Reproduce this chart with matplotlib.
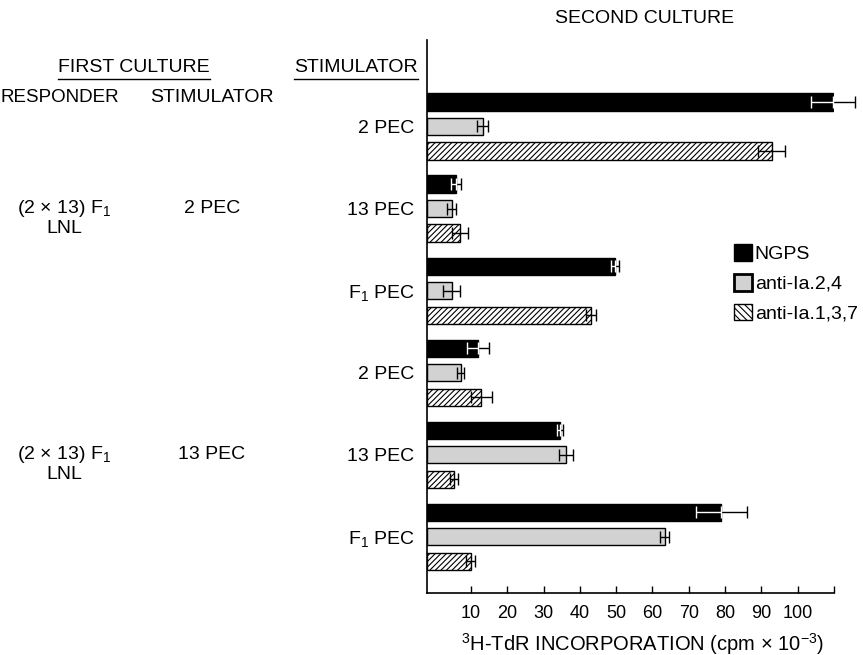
import numpy as np
import matplotlib
matplotlib.use("Agg")
import matplotlib.pyplot as plt
from matplotlib.patches import Patch
from matplotlib.lines import Line2D
from matplotlib.transforms import blended_transform_factory

plt.rcParams["font.family"] = ["Liberation Sans", "DejaVu Sans"]
plt.rcParams["mathtext.fontset"] = "custom"
plt.rcParams["mathtext.rm"] = "Liberation Sans"
plt.rcParams["mathtext.it"] = "Liberation Sans"
plt.rcParams["hatch.linewidth"] = 0.8

# second-culture stimulators (one group each)
stimulators = ["2 PEC", "13 PEC", "F$_1$ PEC", "2 PEC", "13 PEC", "F$_1$ PEC"]
series = ["NGPS", "anti-Ia.2,4", "anti-Ia.1,3,7"]

# 3H-TdR incorporation (cpm x 10^-3)
ngps = [109.7, 6.0, 49.7, 12.0, 34.5, 78.9]
ngps_err = [6.0, 1.4, 1.0, 3.0, 0.9, 7.0]
anti24 = [13.3, 4.7, 4.7, 7.2, 36.2, 63.4]
anti24_err = [1.5, 1.2, 2.3, 0.9, 2.0, 1.2]
anti137 = [92.8, 7.0, 43.0, 12.9, 5.4, 9.9]
anti137_err = [3.7, 2.3, 1.4, 3.0, 1.1, 1.2]

# first culture
responders = ["(2 $\\times$ 13) F$_1$", "(2 $\\times$ 13) F$_1$"]
first_stim = ["2 PEC", "13 PEC"]

xticks = [10, 20, 30, 40, 50, 60, 70, 80, 90, 100, 110]
xticklabels = ["10", "20", "30", "40", "50", "60", "70", "80", "90", "100", ""]

GP = 3.35   # group pitch in bar units
H = 0.7
X0 = -2.1
FS = 14

fig = plt.figure(figsize=(8.63, 6.55), dpi=100)
ax = fig.add_axes([427 / 863, 1 - 593 / 655, (834 - 427) / 863, (593 - 40) / 655])

g = np.arange(len(stimulators))
values = [ngps, anti24, anti137]
errs = [ngps_err, anti24_err, anti137_err]
styles = [dict(color="black", edgecolor="black"),
          dict(color="#d2d2d2", edgecolor="black"),
          dict(color="white", edgecolor="black", hatch="//////")]

for i, (v, e, st) in enumerate(zip(values, errs, styles)):
    y = g * GP + i
    v = np.array(v)
    ax.barh(y, v - X0, left=X0, height=H, linewidth=1.0, zorder=2, **st)
    eb = ax.errorbar(v, y, xerr=e, fmt="none", ecolor="black", elinewidth=1.0,
                     capsize=4, capthick=1.0, zorder=3)
    for art in list(eb.lines[1]) + list(eb.lines[2]):
        art.set_clip_on(False)
    if i == 0:
        # part of the error bar that lies over the black bar shows white
        ax.errorbar(v, y, xerr=[e, np.zeros(len(e))], fmt="none", ecolor="white",
                    elinewidth=1.0, capsize=4, capthick=1.0, zorder=4)

ax.set_xlim(X0, 110)
ax.set_ylim(2 + (len(stimulators) - 1) * GP + 1.29, -2.53)
ax.spines["top"].set_visible(False)
ax.spines["right"].set_visible(False)
ax.spines["left"].set_linewidth(1.2)
ax.spines["bottom"].set_linewidth(1.2)

ax.set_xticks(xticks)
ax.set_xticklabels(xticklabels, fontsize=13)
ax.tick_params(axis="x", direction="in", length=5, width=1, pad=9)
ax.set_yticks(g * GP + 1)
ax.set_yticklabels(stimulators, fontsize=FS)
ax.tick_params(axis="y", length=0, pad=9)
ax.set_xlabel("$^{3}$H-TdR INCORPORATION (cpm $\\times$ 10$^{-3}$)", fontsize=14.5, labelpad=6)
ax.xaxis.label.set_x((643 - 427) / (834 - 427))

fig.text(645 / 863, 1 - 18.5 / 655, "SECOND CULTURE", ha="center", va="center", fontsize=FS)
t1 = fig.text(134 / 863, 1 - 67 / 655, "FIRST CULTURE", ha="center", va="center", fontsize=FS)
t2 = fig.text(418 / 863, 1 - 67 / 655, "STIMULATOR", ha="right", va="center", fontsize=FS)
fig.text(1 / 863, 1 - 97 / 655, "RESPONDER", ha="left", va="center", fontsize=13.5)
fig.text(212 / 863, 1 - 97 / 655, "STIMULATOR", ha="center", va="center", fontsize=FS)

tr = blended_transform_factory(fig.transFigure, ax.transData)
for k, (resp, st) in enumerate(zip(responders, first_stim)):
    yc = (3 * k + 1) * GP + 1
    fig.text(17 / 863, yc, resp, transform=tr, ha="left", va="center", fontsize=FS)
    fig.text(64 / 863, yc + 0.8, "LNL", transform=tr, ha="center", va="center", fontsize=FS)
    fig.text(212 / 863, yc, st, transform=tr, ha="center", va="center", fontsize=FS)

# underline the two headers
fig.canvas.draw()
renderer = fig.canvas.get_renderer()
inv = fig.transFigure.inverted()
for t in (t1, t2):
    bb = t.get_window_extent(renderer)
    (x0, y0), (x1, _) = inv.transform([(bb.x0, bb.y0 - 3), (bb.x1, bb.y0 - 3)])
    fig.add_artist(Line2D([x0, x1], [y0, y0], transform=fig.transFigure,
                          color="black", linewidth=1.0))

handles = [Patch(facecolor="black", edgecolor="black"),
           Patch(facecolor="#d2d2d2", edgecolor="black", linewidth=2),
           Patch(facecolor="white", edgecolor="black", hatch="\\\\\\\\\\")]
fig.legend(handles, series, loc="upper left", bbox_to_anchor=(734 / 863, 1 - 244 / 655),
           frameon=False, borderpad=0, borderaxespad=0, handlelength=0.95, handleheight=0.95,
           handletextpad=0.12, labelspacing=0.55, fontsize=FS)

fig.savefig("out.png", dpi=100)
